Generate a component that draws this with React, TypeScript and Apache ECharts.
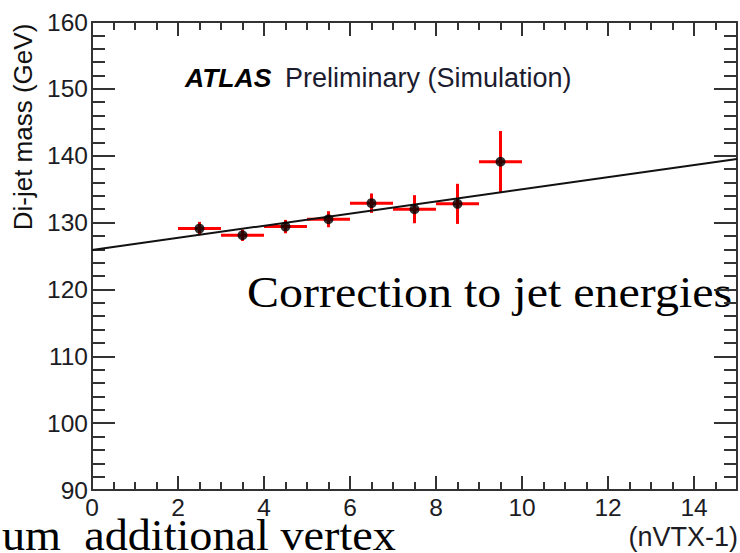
import React, { useEffect, useRef } from "react";
import * as echarts from "echarts";

const binCenters = [2.5, 3.5, 4.5, 5.5, 6.5, 7.5, 8.5, 9.5];
const binHalfWidths = [0.5, 0.5, 0.5, 0.5, 0.5, 0.5, 0.5, 0.5];
const massValues = [129.1, 128.1, 129.4, 130.5, 132.9, 132.0, 132.8, 139.1];
const massErrors = [1.0, 0.85, 1.0, 1.2, 1.45, 2.1, 3.0, 4.6];
const fitX = [0, 15];
const fitY = [125.9, 139.5];

const xTickLabels = ["0", "2", "4", "6", "8", "10", "12", "14"];

export default function App() {
  const ref = useRef<HTMLDivElement>(null);
  useEffect(() => {
    if (!ref.current) return;
    const chart = echarts.init(ref.current, null, { renderer: "svg" });
    const axisColor = "#333333";
    const labelColor = "#1c1c24";
    const labelFont = "Liberation Sans";
    const errData = binCenters.map((x, i) => [x, massValues[i], binHalfWidths[i], massErrors[i]]);
    const pts = binCenters.map((x, i) => [x, massValues[i]]);
    const fitData = fitX.map((x, i) => [x, fitY[i]]);

    const xCommon = {
      type: "value",
      min: 0,
      max: 15,
      interval: 2,
      splitLine: { show: false },
      axisLine: { show: true, onZero: false, lineStyle: { color: axisColor, width: 2 } },
      axisTick: { show: true, inside: true, length: 14, lineStyle: { color: axisColor, width: 2 } },
      minorTick: { show: true, splitNumber: 4, length: 8, lineStyle: { color: axisColor, width: 2 } },
    };
    const yCommon = {
      type: "value",
      min: 90,
      max: 160,
      interval: 10,
      splitLine: { show: false },
      axisLine: { show: true, onZero: false, lineStyle: { color: axisColor, width: 2 } },
      axisTick: { show: true, inside: true, length: 23, lineStyle: { color: axisColor, width: 2 } },
      minorTick: { show: true, splitNumber: 5, length: 13, lineStyle: { color: axisColor, width: 2 } },
    };

    chart.setOption({
      animation: false,
      backgroundColor: "#ffffff",
      grid: { left: 92, top: 22, width: 651, height: 468, containLabel: false },
      xAxis: [
        {
          ...xCommon,
          position: "bottom",
          axisLabel: {
            show: true,
            margin: 5,
            color: labelColor,
            fontFamily: labelFont,
            fontSize: 24.5,
            formatter: (v: number) => {
              const s = String(v);
              return xTickLabels.includes(s) ? s : "";
            },
          },
        },
        { ...xCommon, position: "top", axisLabel: { show: false } },
      ],
      yAxis: [
        {
          ...yCommon,
          position: "left",
          axisLabel: { show: true, margin: 4, color: labelColor, fontFamily: labelFont, fontSize: 24.5 },
        },
        { ...yCommon, position: "right", axisLabel: { show: false } },
      ],
      series: [
        {
          type: "custom",
          xAxisIndex: 0,
          yAxisIndex: 0,
          encode: { x: 0, y: 1 },
          data: errData,
          z: 2,
          renderItem: (params: any, api: any) => {
            const x = api.value(0);
            const y = api.value(1);
            const ex = api.value(2);
            const ey = api.value(3);
            const l = api.coord([x - ex, y]);
            const r = api.coord([x + ex, y]);
            const t = api.coord([x, y + ey]);
            const b = api.coord([x, y - ey]);
            return {
              type: "group",
              children: [
                { type: "line", shape: { x1: l[0], y1: l[1], x2: r[0], y2: r[1] }, style: { stroke: "#ff0000", lineWidth: 3 } },
                { type: "line", shape: { x1: t[0], y1: t[1], x2: b[0], y2: b[1] }, style: { stroke: "#ff0000", lineWidth: 3 } },
              ],
            };
          },
        },
        {
          type: "line",
          data: fitData,
          symbol: "none",
          z: 3,
          lineStyle: { color: "#111111", width: 2 },
        },
        {
          type: "scatter",
          data: pts,
          symbol: "circle",
          symbolSize: 10,
          z: 4,
          itemStyle: { color: "#000000" },
        },
      ],
      graphic: [
        {
          type: "text",
          x: 23,
          y: 127,
          rotation: Math.PI / 2,
          style: {
            text: "Di-jet mass (GeV)",
            fontFamily: labelFont,
            fontSize: 26,
            fill: "#111111",
            align: "center",
            verticalAlign: "middle",
          },
        },
        {
          type: "text",
          x: 185,
          y: 78,
          style: {
            text: "ATLAS",
            fontFamily: labelFont,
            fontSize: 26.5,
            fontWeight: "bold",
            fontStyle: "italic",
            fill: "#000000",
            align: "left",
            verticalAlign: "middle",
          },
        },
        {
          type: "text",
          x: 285,
          y: 78,
          style: {
            text: "Preliminary (Simulation)",
            fontFamily: labelFont,
            fontSize: 27,
            fill: "#1c1c30",
            align: "left",
            verticalAlign: "middle",
          },
        },
        {
          type: "text",
          x: 738,
          y: 537,
          style: {
            text: "(nVTX-1)",
            fontFamily: labelFont,
            fontSize: 27,
            fill: labelColor,
            align: "right",
            verticalAlign: "middle",
          },
        },
        {
          type: "text",
          x: 247,
          y: 292,
          scaleX: 1.09,
          style: {
            text: "Correction to jet energies",
            fontFamily: "Liberation Serif",
            fontSize: 44,
            fill: "#000000",
            align: "left",
            verticalAlign: "middle",
          },
        },
        {
          type: "text",
          x: 2,
          y: 535,
          scaleX: 1.05,
          style: {
            text: "um  additional vertex",
            fontFamily: "Liberation Serif",
            fontSize: 44,
            fill: "#000000",
            align: "left",
            verticalAlign: "middle",
          },
        },
      ],
    });
    return () => chart.dispose();
  }, []);
  return <div ref={ref} style={{ width: 740, height: 553, position: "absolute", left: 0, top: 0 }} />;
}
